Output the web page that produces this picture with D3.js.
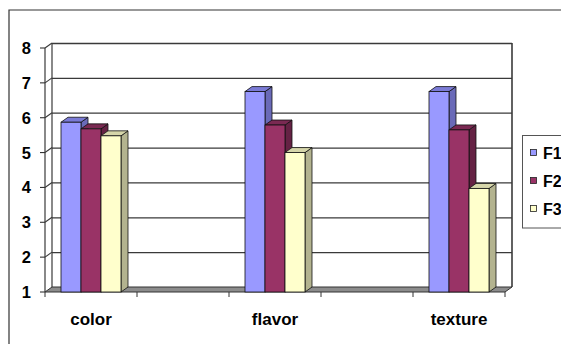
<!DOCTYPE html>
<html><head><meta charset="utf-8">
<script src="https://cdn.jsdelivr.net/npm/d3@7"></script>
<style>html,body{margin:0;padding:0;background:#fff;}svg{display:block;font-family:"Liberation Sans",Arial,sans-serif;}</style>
</head><body>
<script>
const categories = ["color", null, "flavor", null, "texture"];
const seriesNames = ["F1", "F2", "F3"];
const F1 = [5.87, null, 6.75, null, 6.75];
const F2 = [5.68, null, 5.79, null, 5.65];
const F3 = [5.48, null, 5.0, null, 3.97];
const yTicks = [1, 2, 3, 4, 5, 6, 7, 8];

const seriesValues = [F1, F2, F3];
const colors = [
  {front: "#9999ff", top: "#7b7bd6", side: "#6a6ab8"},
  {front: "#993366", top: "#7a2952", side: "#652244"},
  {front: "#ffffcc", top: "#d6d6aa", side: "#b3b38f"}
];

const W = 561, H = 344;
const svg = d3.select("body").append("svg").attr("width", W).attr("height", H);
const DX = 7, DY = -5;

const x = d3.scaleBand().domain(d3.range(categories.length)).range([45, 505]);
const xs = d3.scaleBand().domain(seriesNames).range([16, 76]);
const y = d3.scaleLinear().domain([1, 8]).range([292, 48]);

// chart area border
svg.append("path").attr("d", `M9,${H+2}V10H${W+2}`).attr("fill", "none").attr("stroke", "#333").attr("stroke-width", 1.2);

const x0 = x.range()[0], x1 = x.range()[1];
// back wall gridlines
const g = svg.append("g");
yTicks.forEach(v => {
  if (v === 1) return;
  g.append("line").attr("x1", x0 + DX).attr("x2", x1 + DX).attr("y1", y(v) + DY + 0.5).attr("y2", y(v) + DY + 0.5)
    .attr("stroke", "#3a3a3a").attr("stroke-width", 1.3);
  g.append("line").attr("x1", x0).attr("x2", x0 + DX).attr("y1", y(v)).attr("y2", y(v) + DY)
    .attr("stroke", "#3a3a3a").attr("stroke-width", 1.1);
});
// walls verticals
g.append("line").attr("x1", x0 + DX).attr("x2", x0 + DX).attr("y1", y(8) + DY).attr("y2", y(1) + DY).attr("stroke", "#3a3a3a").attr("stroke-width", 1.2);
g.append("line").attr("x1", x0).attr("x2", x0).attr("y1", y(8)).attr("y2", y(1)).attr("stroke", "#3a3a3a").attr("stroke-width", 1.2);
g.append("line").attr("x1", x1 + DX).attr("x2", x1 + DX).attr("y1", y(8) + DY).attr("y2", y(1) + DY).attr("stroke", "#3a3a3a").attr("stroke-width", 1.6);

// floor
svg.append("path")
  .attr("d", `M${x0},${y(1)}L${x1},${y(1)}L${x1 + DX},${y(1) + DY}L${x0 + DX},${y(1) + DY}Z`)
  .attr("fill", "#8c8c8c").attr("stroke", "#333").attr("stroke-width", 1);

// y ticks + labels
yTicks.forEach(v => {
  svg.append("line").attr("x1", x0 - 5).attr("x2", x0).attr("y1", y(v)).attr("y2", y(v)).attr("stroke", "#333").attr("stroke-width", 1.1);
  svg.append("text").attr("x", 31).attr("y", y(v)).attr("dy", "0.36em").attr("text-anchor", "end")
    .attr("font-size", 16.5).attr("font-weight", "bold").attr("fill", "#000").text(v);
});

// category ticks
d3.range(categories.length + 1).forEach(i => {
  const xx = i < categories.length ? x(i) : x1;
  svg.append("line").attr("x1", xx).attr("x2", xx).attr("y1", y(1)).attr("y2", y(1) + 5).attr("stroke", "#333").attr("stroke-width", 1);
});

// bars
const bars = svg.append("g");
categories.forEach((c, i) => {
  seriesNames.forEach((s, k) => {
    const v = seriesValues[k][i];
    if (v == null) return;
    const bx = x(i) + xs(s), bw = xs.bandwidth();
    const top = y(v), bot = y(1);
    const col = colors[k];
    bars.append("path").attr("d", `M${bx + bw},${bot}L${bx + bw + DX},${bot + DY}L${bx + bw + DX},${top + DY}L${bx + bw},${top}Z`)
      .attr("fill", col.side).attr("stroke", "#111").attr("stroke-width", 0.8).attr("stroke-linejoin", "round");
    bars.append("path").attr("d", `M${bx},${top}L${bx + DX},${top + DY}L${bx + bw + DX},${top + DY}L${bx + bw},${top}Z`)
      .attr("fill", col.top).attr("stroke", "#111").attr("stroke-width", 0.8).attr("stroke-linejoin", "round");
    bars.append("rect").attr("x", bx).attr("y", top).attr("width", bw).attr("height", bot - top)
      .attr("fill", col.front).attr("stroke", "#111").attr("stroke-width", 0.8);
  });
});

// category labels
categories.forEach((c, i) => {
  if (!c) return;
  svg.append("text").attr("x", x(i) + x.bandwidth() / 2).attr("y", 325).attr("text-anchor", "middle")
    .attr("font-size", 17).attr("font-weight", "bold").attr("fill", "#000").text(c);
});

// legend
const lg = svg.append("g");
lg.append("rect").attr("x", 522.5).attr("y", 135.5).attr("width", 60).attr("height", 92.5)
  .attr("fill", "#fff").attr("stroke", "#555").attr("stroke-width", 1);
seriesNames.forEach((s, k) => {
  const cy = 153 + k * 28;
  lg.append("rect").attr("x", 530.5).attr("y", cy - 3.5).attr("width", 6).attr("height", 6)
    .attr("fill", colors[k].front).attr("stroke", "#222").attr("stroke-width", 0.8);
  lg.append("text").attr("x", 543).attr("y", cy).attr("dy", "0.36em").attr("font-size", 16).attr("font-weight", "bold").attr("fill", "#000").text(s);
});
</script>
</body></html>
